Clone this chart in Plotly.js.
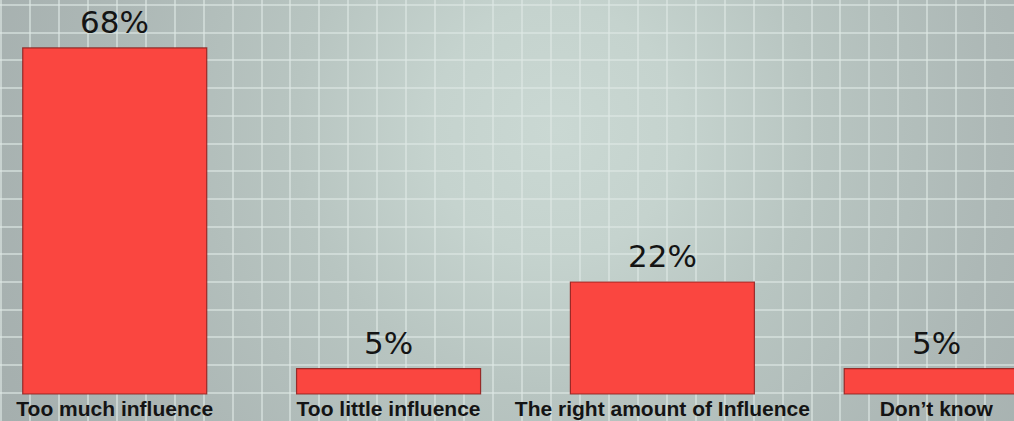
<!DOCTYPE html>
<html><head><meta charset="utf-8">
<script src="https://cdn.plot.ly/plotly-3.0.1.min.js"></script>
<style>html,body{margin:0;padding:0;overflow:hidden;background:#aab5b3}#chart{width:1014px;height:421px}</style>
</head><body><div id="chart"></div>
<script>
// ---- data ----
const categories = ["Too much influence", "Too little influence", "The right amount of Influence", "Don\u2019t know"];
const values = [68, 5, 22, 5];
const valueLabels = ["68%", "5%", "22%", "5%"];
const positions = [0, 1, 2, 3];

// ---- background gradient (decoration) ----
function makeBg() {
  const c = document.createElement('canvas');
  c.width = 1014; c.height = 421;
  const g = c.getContext('2d');
  const grad = g.createRadialGradient(555, 130, 0, 555, 130, 620);
  grad.addColorStop(0.0, 'rgb(202,216,211)');
  grad.addColorStop(0.2, 'rgb(197,211,206)');
  grad.addColorStop(0.42, 'rgb(184,197,193)');
  grad.addColorStop(0.72, 'rgb(173,184,182)');
  grad.addColorStop(1.0, 'rgb(165,175,174)');
  g.fillStyle = grad;
  g.fillRect(0, 0, 1014, 421);
  return c.toDataURL('image/png');
}

const barTrace = {
  type: 'bar',
  x: positions,
  y: values,
  width: 0.672,
  marker: { color: '#fa4640', line: { color: 'rgba(140,28,26,0.85)', width: 1.2 } },
  hoverinfo: 'skip'
};

const annotations = positions.map((p, i) => ({
  x: p, y: values[i], xref: 'x', yref: 'y',
  text: valueLabels[i], showarrow: false,
  yanchor: 'bottom', xanchor: 'center', yshift: 6,
  font: { family: 'DejaVu Sans', size: 31, color: '#141414' }
}));

const gridCol = 'rgba(222,232,229,0.6)';
const layout = {
  width: 1014, height: 421,
  margin: { l: 0, r: 0, t: 0, b: 0, pad: 0 },
  paper_bgcolor: '#aab5b3',
  plot_bgcolor: 'rgba(0,0,0,0)',
  showlegend: false,
  images: [{ source: makeBg(), xref: 'paper', yref: 'paper', x: 0, y: 1, sizex: 1, sizey: 1,
             xanchor: 'left', yanchor: 'top', sizing: 'stretch', layer: 'below' }],
  xaxis: { anchor: 'free', position: 27 / 421, range: [-0.419, 3.284],
           tickmode: 'array', tickvals: positions, ticktext: categories,
           showgrid: false, zeroline: false, showline: false, ticks: '', ticklabelstandoff: 0,
           tickfont: { family: 'Liberation Sans, Arial, sans-serif', size: 21, color: '#141414', weight: 'bold' },
           minor: { tickmode: 'linear', tick0: -0.4153, dtick: 0.10571, showgrid: true,
                    gridcolor: gridCol, gridwidth: 2, ticks: '' } },
  yaxis: { range: [-27 / 5.09, 394 / 5.09], showticklabels: false, ticks: '', showline: false,
           zeroline: false, tickmode: 'array', tickvals: [], showgrid: false,
           minor: { tickmode: 'linear', tick0: 76.42, dtick: 5.442, showgrid: true,
                    gridcolor: gridCol, gridwidth: 2, ticks: '' } },
  annotations: annotations
};

Plotly.newPlot('chart', [barTrace], layout, { displayModeBar: false, staticPlot: true });
</script>
</body></html>
